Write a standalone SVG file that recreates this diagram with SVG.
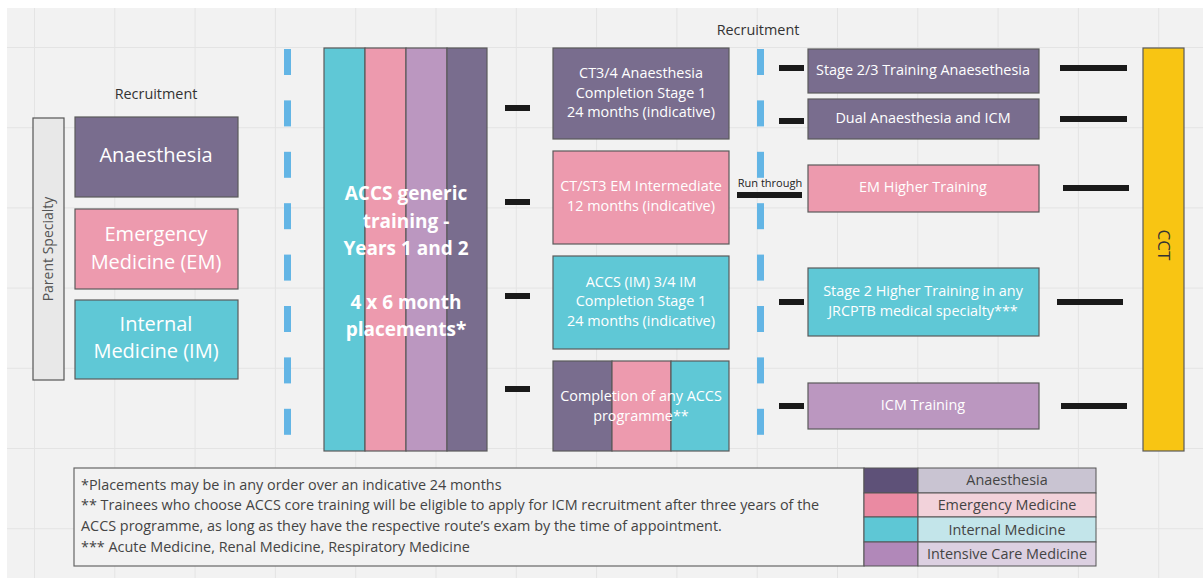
<svg xmlns="http://www.w3.org/2000/svg" width="1203" height="578" viewBox="0 0 1203 578">
<style>
text{font-family:"Open Sans","Noto Sans","Liberation Sans",sans-serif}
.grid{stroke:#e4e4e4;stroke-width:1}
.box{stroke:#5a5a5a;stroke-width:1.2}
.pu{fill:#796d8e}.pk{fill:#ed9aae}.cy{fill:#5fc8d6}.lp{fill:#bb97c0}
.wt{fill:#ffffff;font-size:14.4px;text-anchor:middle}
.big{fill:#ffffff;font-size:20px;text-anchor:middle}
.bold{fill:#ffffff;font-size:19px;font-weight:bold;text-anchor:middle}
.lbl{fill:#333;font-size:14.4px;text-anchor:middle}
.blue{fill:#63b5e5}
.blk{fill:#1a1a1a}
.note{fill:#444;font-size:14.4px}
.leg{fill:#444;font-size:14.4px;text-anchor:middle}
</style>
<defs>
<g id="dashes">
<rect class="blue" x="0" y="49" width="7" height="26"/>
<rect class="blue" x="0" y="100.4" width="7" height="26"/>
<rect class="blue" x="0" y="151.8" width="7" height="26"/>
<rect class="blue" x="0" y="203.2" width="7" height="26"/>
<rect class="blue" x="0" y="254.6" width="7" height="26"/>
<rect class="blue" x="0" y="306" width="7" height="26"/>
<rect class="blue" x="0" y="357.4" width="7" height="26"/>
<rect class="blue" x="0" y="408.8" width="7" height="26"/>
</g>
</defs>
<rect x="7" y="8" width="1196" height="570" fill="#f2f2f2"/>
<g id="grid">
<path class="grid" d="M34.5 8V578M114.8 8V578M195.1 8V578M275.4 8V578M355.7 8V578M436 8V578M516.3 8V578M596.6 8V578M676.9 8V578M757.2 8V578M837.5 8V578M917.8 8V578M998.1 8V578M1078.4 8V578M1158.7 8V578M7 47.5H1203M7 127.7H1203M7 207.9H1203M7 288.1H1203M7 368.3H1203M7 448.5H1203M7 528.7H1203"/>
</g>
<g id="labels">
<text class="lbl" x="156" y="99">Recruitment</text>
<text class="lbl" x="758" y="35">Recruitment</text>
</g>
<g id="parent-specialty">
<rect x="33" y="118" width="31" height="262" fill="#e8e8e8" stroke="#555" stroke-width="1.2"/>
<text transform="translate(53,249) rotate(-90)" fill="#555" font-size="14" text-anchor="middle">Parent Specialty</text>
</g>
<g id="node-anaesthesia">
<rect class="box pu" x="75" y="117" width="163" height="80"/>
<text class="big" x="156" y="162">Anaesthesia</text>
</g>
<g id="node-em">
<rect class="box pk" x="75" y="209" width="163" height="80"/>
<text class="big" x="156" y="241">Emergency</text>
<text class="big" x="156" y="269">Medicine (EM)</text>
</g>
<g id="node-im">
<rect class="box cy" x="75" y="300" width="163" height="79"/>
<text class="big" x="156" y="331">Internal</text>
<text class="big" x="156" y="358">Medicine (IM)</text>
</g>
<g id="node-accs-generic">
<rect class="box cy" x="324" y="48" width="41" height="403"/>
<rect class="box pk" x="365" y="48" width="41" height="403"/>
<rect class="box lp" x="406" y="48" width="41" height="403"/>
<rect class="box pu" x="447" y="48" width="40" height="403"/>
<text class="bold" x="406" y="200">ACCS generic</text>
<text class="bold" x="406" y="228">training -</text>
<text class="bold" x="406" y="255">Years 1 and 2</text>
<text class="bold" x="406" y="309">4 x 6 month</text>
<text class="bold" x="406" y="336">placements*</text>
</g>
<g id="node-ct34">
<rect class="box pu" x="553" y="48" width="176" height="91"/>
<text class="wt" x="641" y="78">CT3/4 Anaesthesia</text>
<text class="wt" x="641" y="98">Completion Stage 1</text>
<text class="wt" x="641" y="117">24 months (indicative)</text>
</g>
<g id="node-ctst3">
<rect class="box pk" x="553" y="151" width="176" height="93"/>
<text class="wt" x="641" y="191">CT/ST3 EM Intermediate</text>
<text class="wt" x="641" y="211">12 months (indicative)</text>
</g>
<g id="node-accs-im">
<rect class="box cy" x="553" y="256" width="176" height="93"/>
<text class="wt" x="641" y="287">ACCS (IM) 3/4 IM</text>
<text class="wt" x="641" y="306">Completion Stage 1</text>
<text class="wt" x="641" y="326">24 months (indicative)</text>
</g>
<g id="node-completion">
<rect class="box pu" x="553" y="361" width="59" height="90"/>
<rect class="box pk" x="612" y="361" width="59" height="90"/>
<rect class="box cy" x="671" y="361" width="58" height="90"/>
<text class="wt" x="641" y="401">Completion of any ACCS</text>
<text class="wt" x="641" y="421">programme**</text>
</g>
<g id="node-stage23">
<rect class="box pu" x="808" y="49" width="231" height="44"/>
<text class="wt" x="923" y="75">Stage 2/3 Training Anaesethesia</text>
</g>
<g id="node-dual">
<rect class="box pu" x="808" y="99" width="231" height="40"/>
<text class="wt" x="923" y="123">Dual Anaesthesia and ICM</text>
</g>
<g id="node-em-higher">
<rect class="box pk" x="808" y="165" width="231" height="47"/>
<text class="wt" x="923" y="192">EM Higher Training</text>
</g>
<g id="node-stage2-higher">
<rect class="box cy" x="808" y="268" width="231" height="68"/>
<text class="wt" x="923" y="296">Stage 2 Higher Training in any</text>
<text class="wt" x="923" y="316">JRCPTB medical specialty***</text>
</g>
<g id="node-icm">
<rect class="box lp" x="808" y="383" width="231" height="46"/>
<text class="wt" x="923" y="410">ICM Training</text>
</g>
<g id="node-cct">
<rect x="1143" y="48" width="41" height="403" fill="#f8c513" stroke="#5a5a5a" stroke-width="1.2"/>
<text transform="translate(1158,245) rotate(90)" fill="#333" font-size="17" text-anchor="middle">CCT</text>
</g>
<g id="connectors">
<use href="#dashes" x="284"/>
<use href="#dashes" x="757"/>
<rect class="blk" x="505" y="105" width="25" height="6"/>
<rect class="blk" x="505" y="199" width="25" height="6"/>
<rect class="blk" x="505" y="293" width="25" height="6"/>
<rect class="blk" x="505" y="386" width="25" height="6"/>
<rect class="blk" x="737" y="192" width="65" height="6"/>
<text x="770" y="187" fill="#222" font-size="11" text-anchor="middle">Run through</text>
<rect class="blk" x="779" y="65" width="25" height="6"/>
<rect class="blk" x="779" y="118" width="25" height="6"/>
<rect class="blk" x="779" y="299" width="25" height="6"/>
<rect class="blk" x="779" y="403" width="25" height="6"/>
<rect class="blk" x="1060" y="65" width="67" height="6"/>
<rect class="blk" x="1060" y="116" width="67" height="6"/>
<rect class="blk" x="1063" y="185" width="66" height="6"/>
<rect class="blk" x="1057" y="299" width="66" height="6"/>
<rect class="blk" x="1061" y="403" width="66" height="6"/>
</g>
<g id="notes">
<rect x="74" y="468" width="790" height="98" fill="#f2f2f2" stroke="#666" stroke-width="1.2"/>
<text class="note" x="81" y="490">*Placements may be in any order over an indicative 24 months</text>
<text class="note" x="81" y="510">** Trainees who choose ACCS core training will be eligible to apply for ICM recruitment after three years of the</text>
<text class="note" x="81" y="531">ACCS programme, as long as they have the respective route’s exam by the time of appointment.</text>
<text class="note" x="81" y="552">*** Acute Medicine, Renal Medicine, Respiratory Medicine</text>
</g>
<g id="legend">
<rect x="864" y="468" width="54" height="25" fill="#5e5178" stroke="#555"/>
<rect x="918" y="468" width="178" height="25" fill="#c9c4d2" stroke="#555"/>
<rect x="864" y="493" width="54" height="24" fill="#ea8aa2" stroke="#555"/>
<rect x="918" y="493" width="178" height="24" fill="#f2d2da" stroke="#555"/>
<rect x="864" y="517" width="54" height="25" fill="#5ec7d5" stroke="#555"/>
<rect x="918" y="517" width="178" height="25" fill="#c3e5ea" stroke="#555"/>
<rect x="864" y="542" width="54" height="24" fill="#b188b9" stroke="#555"/>
<rect x="918" y="542" width="178" height="24" fill="#dcd0e1" stroke="#555"/>
<text class="leg" x="1007" y="485">Anaesthesia</text>
<text class="leg" x="1007" y="510">Emergency Medicine</text>
<text class="leg" x="1007" y="535">Internal Medicine</text>
<text class="leg" x="1007" y="559">Intensive Care Medicine</text>
</g>
</svg>
